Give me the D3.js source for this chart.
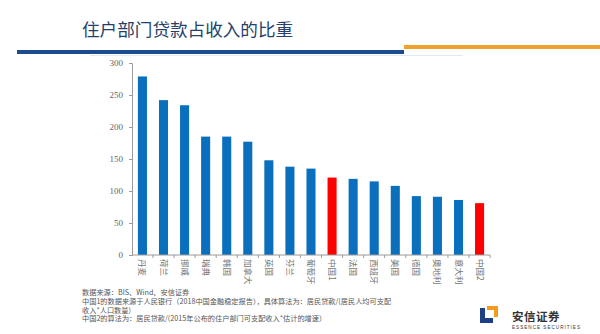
<!DOCTYPE html>
<html>
<head>
<meta charset="utf-8">
<script src="https://cdn.jsdelivr.net/npm/d3@7"></script>
<style>
  body { margin: 0; background: #fff; }
  svg { display: block; }
</style>
</head>
<body>
<div id="chart"></div>
<script>
  // household loans as a share of income, by country
  const countries = ["丹麦", "荷兰", "挪威", "瑞典", "韩国", "加拿大", "英国", "芬兰", "葡萄牙", "中国1",
    "法国", "西班牙", "美国", "德国", "奥地利", "意大利", "中国2"];
  const ratios = [279, 242, 234, 185, 185, 177, 148, 138, 135, 121, 119, 115, 108, 92, 91, 86, 81];
  const yTicks = [0, 50, 100, 150, 200, 250, 300];
  const notes = [
    "数据来源：BIS、Wind、安信证券",
    "中国1的数据来源于人民银行（2018中国金融稳定报告），具体算法为：居民贷款/(居民人均可支配",
    "收入*人口数量)",
    "中国2的算法为：居民贷款/(2015年公布的住户部门可支配收入*估计的增速）"
  ];

  const W = 600, H = 334;
  const cjk = "'Noto Sans CJK SC', 'Noto Sans', sans-serif";

  const svg = d3.select("#chart").append("svg")
    .attr("width", W).attr("height", H);

  // header
  svg.append("text")
    .attr("x", 82).attr("y", 36)
    .attr("font-family", cjk).attr("font-size", 17.6)
    .attr("fill", "#263f6b")
    .text("住户部门贷款占收入的比重");
  svg.append("rect").attr("x", 17).attr("y", 50).attr("width", 387).attr("height", 4).attr("fill", "#1d4b8f");
  svg.append("rect").attr("x", 404).attr("y", 45).attr("width", 196).attr("height", 4).attr("fill", "#f0a12c");
  svg.append("line").attr("x1", 90).attr("x2", 463).attr("y1", 55.5).attr("y2", 55.5)
    .attr("stroke", "#dfe9f8").attr("stroke-width", 1);

  // plot area
  const x = d3.scaleBand().domain(countries).range([132, 490]).paddingInner(0.57).paddingOuter(0.28);
  const y = d3.scaleLinear().domain([0, 300]).range([255, 63]);

  const yAxis = svg.append("g")
    .attr("transform", "translate(132,0)")
    .call(d3.axisLeft(y).tickValues(yTicks).tickSize(3).tickPadding(6));
  yAxis.select(".domain").attr("stroke", "#9a9a9a");
  yAxis.selectAll(".tick line").attr("stroke", "#9a9a9a");
  yAxis.selectAll(".tick text")
    .attr("font-family", "'Liberation Serif', serif").attr("font-size", 9).attr("fill", "#666");

  svg.selectAll(".bar")
    .data(countries)
    .enter()
    .append("rect")
      .attr("class", "bar")
      .attr("x", d => x(d))
      .attr("width", x.bandwidth())
      .attr("y", (d, i) => y(ratios[i]))
      .attr("height", (d, i) => y(0) - y(ratios[i]))
      .attr("fill", d => d.startsWith("中国") ? "#ff0000" : "#0a6fbd");

  // x axis with ticks on the band boundaries
  const step = x.step();
  svg.append("line").attr("x1", 132).attr("x2", 490).attr("y1", y(0)).attr("y2", y(0))
    .attr("stroke", "#9a9a9a");
  svg.selectAll(".xtick")
    .data(countries)
    .enter()
    .append("line")
      .attr("class", "xtick")
      .attr("x1", d => x(d) + x.bandwidth() / 2 + step / 2)
      .attr("x2", d => x(d) + x.bandwidth() / 2 + step / 2)
      .attr("y1", y(0)).attr("y2", y(0) + 3)
      .attr("stroke", "#9a9a9a");

  svg.selectAll(".xlabel")
    .data(countries)
    .enter()
    .append("text")
      .attr("class", "xlabel")
      .attr("transform", d => "translate(" + (x(d) + x.bandwidth() / 2) + "," + (y(0) + 4) + ") rotate(90)")
      .attr("dy", "0.35em")
      .attr("font-family", cjk).attr("font-size", 8.5)
      .attr("fill", "#777")
      .text(d => d);

  // footnotes
  svg.selectAll(".note")
    .data(notes)
    .enter()
    .append("text")
      .attr("class", "note")
      .attr("x", 82)
      .attr("y", (d, i) => 295 + i * 8.8)
      .attr("font-family", cjk).attr("font-size", 7.2)
      .attr("fill", "#555")
      .text(d => d);

  // logo
  const logo = svg.append("g").attr("transform", "translate(480,306)");
  logo.append("path").attr("d", "M0,2 H5 V12 H13 V17 H0 Z").attr("fill", "#1d3f84");
  logo.append("path").attr("d", "M7,0 H18 V11 H14 V4 H7 Z").attr("fill", "#f29b1f");
  svg.append("text")
    .attr("x", 512).attr("y", 321)
    .attr("font-family", cjk).attr("font-size", 11.5).attr("font-weight", "bold")
    .attr("fill", "#333")
    .attr("letter-spacing", 0.5)
    .text("安信证券");
  svg.append("text")
    .attr("x", 512).attr("y", 329)
    .attr("font-family", "'Liberation Sans', sans-serif").attr("font-size", 4.6)
    .attr("fill", "#333")
    .attr("textLength", 68)
    .text("ESSENCE SECURITIES");
</script>
</body>
</html>
